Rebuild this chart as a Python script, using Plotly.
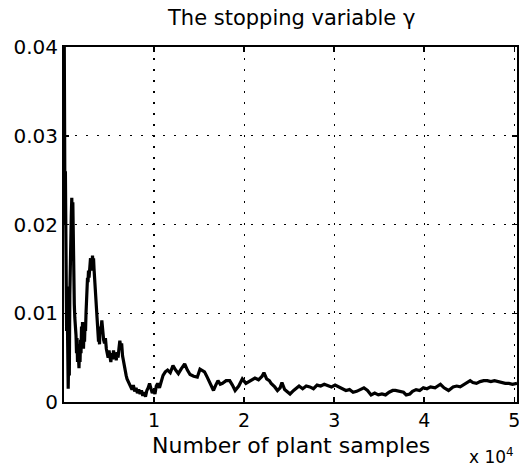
import plotly.graph_objects as go

# samples (x) and stopping variable gamma (y)
samples_early = [0, 35, 70, 110, 155, 200, 245, 290, 335, 380, 420, 465, 535, 590, 645,
                 700, 755, 810, 865, 920, 980, 1035, 1090, 1145, 1200, 1280, 1335, 1390,
                 1445, 1500, 1555, 1610, 1665, 1720, 1780, 1835, 1890, 1945, 2000, 2055,
                 2110, 2165, 2220, 2280, 2335, 2390, 2445, 2500, 2555, 2610, 2665, 2720,
                 2780, 2835, 2890, 2945, 3000, 3055, 3110, 3165, 3220, 3280, 3335, 3390,
                 3445, 3500, 3555, 3610, 3665, 3720, 3780, 3835, 3890, 3945]
gamma_early = [0.048, 0.036, 0.028, 0.020, 0.026, 0.012, 0.018, 0.008, 0.013, 0.004, 0.009,
               0.0015, 0.006, 0.003, 0.012, 0.018, 0.015, 0.021, 0.023, 0.019, 0.0225, 0.017,
               0.013, 0.011, 0.0095, 0.0085, 0.0075, 0.0055, 0.0072, 0.0045, 0.0065, 0.005,
               0.0038, 0.006, 0.0045, 0.007, 0.0055, 0.0085, 0.0065, 0.009, 0.007, 0.006,
               0.008, 0.0068, 0.0088, 0.008, 0.010, 0.0115, 0.0125, 0.014, 0.0135, 0.0148,
               0.014, 0.0155, 0.015, 0.0162, 0.0148, 0.016, 0.0152, 0.0165, 0.0155, 0.0162,
               0.015, 0.014, 0.013, 0.0118, 0.0105, 0.0098, 0.009, 0.008, 0.0072, 0.0068,
               0.0075, 0.0065]

samples_mid = [4000, 4100, 4200, 4300, 4400, 4500, 4600, 4700, 4800, 4900, 5000, 5100, 5200,
               5300, 5400, 5500, 5600, 5700, 5800, 5900, 6000, 6100, 6200, 6300, 6400, 6500,
               6600, 6700, 6800, 6900, 7000, 7100, 7250, 7400, 7550, 7700, 7850, 8000, 8150,
               8300, 8450, 8600, 8750, 8900, 9050, 9200, 9350, 9500, 9650, 9800, 9950, 10100,
               10250, 10400, 10600, 10800, 11000, 11250, 11500, 11800, 12100, 12400, 12700,
               13000, 13400, 13700, 14000, 14400, 14800, 15100, 15350, 15600, 15900, 16200,
               16600, 16850, 17100, 17350, 17600, 18000, 18400, 18700, 19000, 19400, 19800,
               20200]
gamma_mid = [0.0085, 0.0080, 0.0092, 0.0078, 0.0070, 0.0066, 0.0072, 0.0060, 0.0056, 0.0050,
             0.0058, 0.0052, 0.0045, 0.0055, 0.0048, 0.0058, 0.0050, 0.0054, 0.0047, 0.0056,
             0.0050, 0.0060, 0.0069, 0.0062, 0.0066, 0.0052, 0.0045, 0.0040, 0.0036, 0.0030,
             0.0026, 0.0024, 0.0020, 0.0018, 0.0014, 0.0019, 0.0012, 0.0016, 0.0010, 0.0014,
             0.0009, 0.0013, 0.0007, 0.0011, 0.0006, 0.0013, 0.0016, 0.0021, 0.0015, 0.0010,
             0.0014, 0.0009, 0.0018, 0.0021, 0.0016, 0.0024, 0.0030, 0.0034, 0.0036, 0.0033,
             0.0041, 0.0036, 0.0032, 0.0037, 0.0043, 0.0036, 0.0031, 0.0029, 0.0028, 0.0037,
             0.0035, 0.0034, 0.0028, 0.0022, 0.0013, 0.0019, 0.0024, 0.0020, 0.0021, 0.0024,
             0.0024, 0.0019, 0.0013, 0.0018, 0.0026, 0.0021]

samples_late = [20700, 21200, 21600, 22000, 22200, 22500, 22800, 23000, 23400, 23700, 24000,
                24200, 24500, 24800, 25100, 25500, 25800, 26100, 26500, 26900, 27300, 27700,
                28100, 28500, 28900, 29200, 29700, 30100, 30500, 30900, 31300, 31700, 32100,
                32500, 32900, 33300, 33700, 34100, 34500, 34900, 35300, 35700, 36100, 36500,
                36800, 37300, 37700, 38000, 38400, 38700, 39100, 39500, 39900, 40300, 40700,
                41200, 41800, 42200, 42700, 43200, 43600, 44000, 44500, 45100, 45400, 45800,
                46200, 46600, 47000, 47400, 47800, 48200, 48600, 49000, 49400, 49800, 50300]
gamma_late = [0.0024, 0.0027, 0.0025, 0.0029, 0.0033, 0.0026, 0.0024, 0.0021, 0.0017, 0.0013,
              0.0016, 0.0022, 0.0014, 0.0011, 0.0009, 0.0013, 0.0016, 0.0018, 0.0015, 0.0018,
              0.0017, 0.0015, 0.0019, 0.0018, 0.0020, 0.0019, 0.0017, 0.0019, 0.0017, 0.0015,
              0.0013, 0.0014, 0.0011, 0.0012, 0.0014, 0.0016, 0.0013, 0.0008, 0.0010, 0.0008,
              0.0009, 0.0008, 0.0011, 0.0013, 0.0013, 0.0012, 0.0011, 0.0008, 0.0009, 0.0012,
              0.0014, 0.0013, 0.0016, 0.0015, 0.0017, 0.0016, 0.0020, 0.0016, 0.0013, 0.0017,
              0.0018, 0.0017, 0.0020, 0.0024, 0.0022, 0.0021, 0.0023, 0.0024, 0.0024, 0.0023,
              0.0024, 0.0023, 0.0022, 0.0021, 0.0021, 0.0020, 0.0021]

x_ticks = [10000, 20000, 30000, 40000, 50000]
x_tick_labels = ["1", "2", "3", "4", "5"]
y_ticks = [0, 0.01, 0.02, 0.03, 0.04]
y_tick_labels = ["0", "0.01", "0.02", "0.03", "0.04"]

x = samples_early + samples_mid + samples_late
y = gamma_early + gamma_mid + gamma_late

FONT = "DejaVu Sans"

fig = go.Figure()
fig.add_trace(go.Scatter(x=x, y=y, mode="lines",
                         line=dict(color="black", width=3.2), showlegend=False))

axis_common = dict(
    showline=True, linecolor="black", linewidth=2, mirror="allticks",
    ticks="inside", ticklen=5, tickwidth=1.5, tickcolor="black",
    showgrid=True, gridcolor="black", gridwidth=1.2, griddash="2px,9px",
    zeroline=False, automargin=False, ticklabeloverflow="allow",
)

fig.update_xaxes(range=[0, 50300], tickvals=x_ticks, ticktext=x_tick_labels,
                 tickfont=dict(family=FONT, size=19, color="black"), **axis_common)
fig.update_yaxes(range=[0, 0.04], tickvals=y_ticks, ticktext=y_tick_labels,
                 tickfont=dict(family=FONT, size=20, color="black"), **axis_common)

fig.update_layout(
    width=519, height=471,
    margin=dict(l=64, r=2, t=47, b=69),
    paper_bgcolor="white", plot_bgcolor="white",
    annotations=[
        dict(text="The stopping variable γ", xref="paper", yref="paper",
             x=0.5, y=1.082, xanchor="center", yanchor="middle", showarrow=False,
             font=dict(family=FONT, size=21, color="black")),
        dict(text="Number of plant samples", xref="paper", yref="paper",
             x=0.5, y=-0.122, xanchor="center", yanchor="middle", showarrow=False,
             font=dict(family=FONT, size=22, color="black")),
        dict(text="x 10<sup>4</sup>", xref="paper", yref="paper",
             x=0.998, y=-0.152, xanchor="right", yanchor="middle", showarrow=False,
             font=dict(family=FONT, size=17, color="black")),
    ],
)

fig.write_html(
    "out.html",
    config={"displayModeBar": False, "staticPlot": True},
    post_script="document.body.style.margin='0';document.body.style.padding='0';"
                "document.body.style.overflow='hidden';",
)
